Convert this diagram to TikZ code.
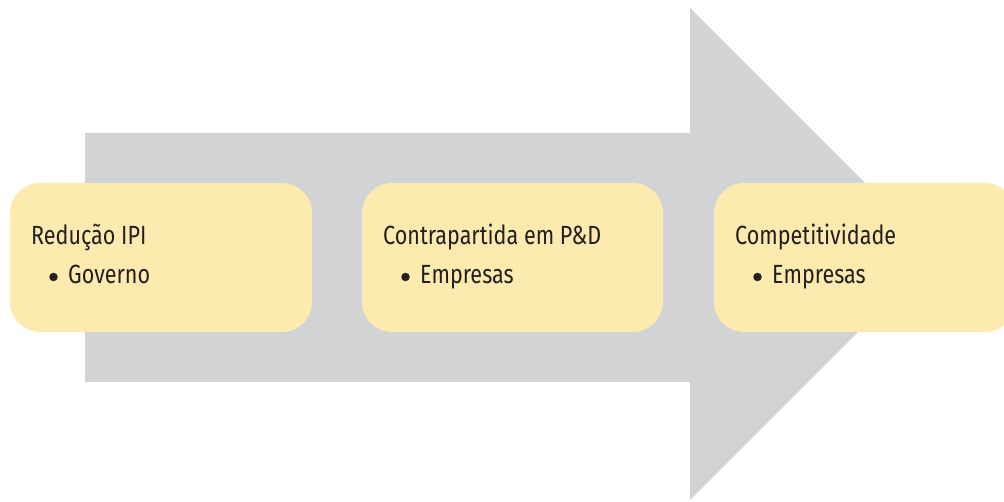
\documentclass[tikz,border=0pt]{standalone}
\usepackage{fontspec}
\setmainfont{Fira Sans}[FakeStretch=0.82]
\definecolor{arrowgray}{HTML}{D1D3D4}
\definecolor{boxyellow}{HTML}{FDEAAE}
\definecolor{txt}{HTML}{231F20}
\begin{document}
\begin{tikzpicture}[x=1pt,y=-1pt,
  stage/.style={fill=boxyellow,draw=none,rounded corners=30pt},
  head/.style={anchor=base west,inner sep=0pt,text=txt,font=\fontsize{26.3}{30}\selectfont},
  item/.style={anchor=base west,inner sep=0pt,text=txt,font=\fontsize{26.3}{30}\selectfont},
  dot/.style={circle,fill=txt,inner sep=0pt,minimum size=8.5pt}]
\useasboundingbox (0,0) rectangle (1004,502);
\fill[arrowgray] (85,133) -- (690,133) -- (690,8) -- (936,254) -- (690,500) -- (690,382) -- (85,382) -- cycle;
\fill[stage] (10,183) rectangle (312,332);
\fill[stage] (362,183) rectangle (663,332);
\fill[stage] (714,183) rectangle (1015,332);
\node[head] (h1) at (31,245) {Redução IPI};
\node[dot] (b1) at (53.5,277) {};
\node[item] (i1) at (68,284) {Governo};
\node[head] (h2) at (383,245) {Contrapartida em P\&D};
\node[dot] (b2) at (405.5,277) {};
\node[item] (i2) at (420,284) {Empresas};
\node[head] (h3) at (735,245) {Competitividade};
\node[dot] (b3) at (757.5,277) {};
\node[item] (i3) at (772,284) {Empresas};
\end{tikzpicture}
\end{document}
